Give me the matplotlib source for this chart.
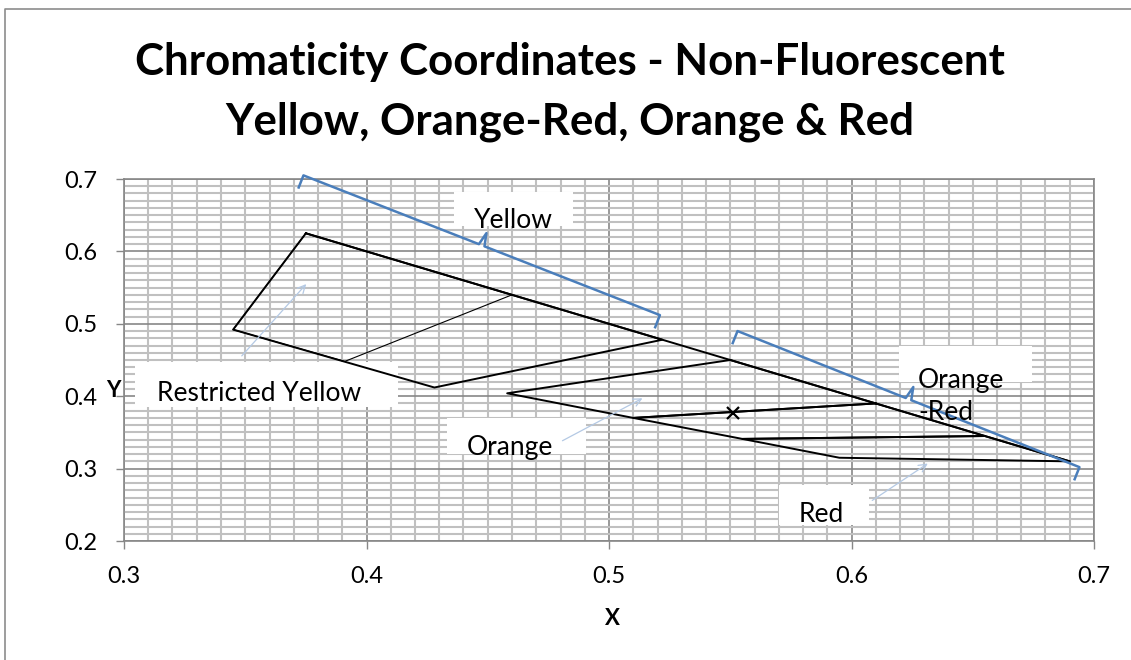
import numpy as np
import matplotlib
matplotlib.use("Agg")
import matplotlib.pyplot as plt
from matplotlib.patches import Rectangle
from matplotlib.ticker import MultipleLocator

plt.rcParams['font.family'] = ['Lato', 'DejaVu Sans']

# chromaticity boxes (x, y), closed polygons
yellow_x = [0.375, 0.522, 0.428, 0.345, 0.375]
yellow_y = [0.625, 0.478, 0.412, 0.492, 0.625]

restricted_x = [0.375, 0.460, 0.391, 0.345, 0.375]
restricted_y = [0.625, 0.540, 0.448, 0.492, 0.625]

orange_x = [0.550, 0.610, 0.510, 0.458, 0.550]
orange_y = [0.450, 0.390, 0.370, 0.404, 0.450]

orange_red_x = [0.610, 0.655, 0.555, 0.510, 0.610]
orange_red_y = [0.390, 0.345, 0.341, 0.370, 0.390]

red_x = [0.655, 0.690, 0.595, 0.555, 0.655]
red_y = [0.345, 0.310, 0.315, 0.341, 0.345]

# spectral edge joining the outer corners
locus_x = [0.375, 0.522, 0.550, 0.610, 0.655, 0.690]
locus_y = [0.625, 0.478, 0.450, 0.390, 0.345, 0.310]

# single point marked with a cross
point_x = [0.551]
point_y = [0.377]

x_ticks = [0.3, 0.4, 0.5, 0.6, 0.7]
y_ticks = [0.2, 0.3, 0.4, 0.5, 0.6, 0.7]

# callout labels: text, box (x0, y0, x1, y1), text anchor (x, y, ha)
labels = [
    ("Yellow", (0.4361, 0.6351, 0.4852, 0.6820), (0.4604, 0.6323, 'center')),
    ("Restricted Yellow", (0.3045, 0.3851, 0.4130, 0.4472), (0.3559, 0.3934, 'center')),
    ("Orange", (0.4332, 0.3202, 0.4905, 0.3699), (0.4592, 0.3188, 'center')),
    ("Orange\n-Red", (0.6196, 0.4196, 0.6744, 0.4693), (0.6274, 0.3671, 'left')),
    ("Red", (0.5701, 0.2221, 0.6072, 0.2773), (0.5784, 0.2262, 'left')),
]

# pale arrows from label to region (start, end)
arrows = [
    ((0.3478, 0.4528), (0.3759, 0.5577)),
    ((0.4798, 0.3367), (0.5148, 0.3989)),
    ((0.6076, 0.2539), (0.6324, 0.3091)),
]

# braces over the spectral edge (start corner, end corner)
braces = [
    ((0.374, 0.705), (0.521, 0.512)),
    ((0.553, 0.490), (0.694, 0.302)),
]

W, H = 1131, 660
fig = plt.figure(figsize=(W / 100, H / 100), dpi=100)
ax = fig.add_axes([124 / W, (H - 541) / H, 970 / W, 362 / H])

# outer chart border (only left and top edges fall inside the image)
fig.add_artist(plt.Line2D([5 / W, 5 / W, 1.0], [0.0, 1 - 9 / H, 1 - 9 / H],
                          transform=fig.transFigure, color='#8c8c8c', linewidth=1.2))

ax.set_xlim(0.3, 0.7)
ax.set_ylim(0.2, 0.7)
ax.set_xticks(x_ticks)
ax.set_yticks(y_ticks)
ax.xaxis.set_minor_locator(MultipleLocator(0.01))
ax.yaxis.set_minor_locator(MultipleLocator(0.01))
ax.grid(which='minor', color='#c0c0c0', linewidth=1.5, zorder=0)
ax.grid(which='major', color='#878787', linewidth=1.2, zorder=0)
ax.set_axisbelow(True)
ax.tick_params(which='major', direction='out', length=6, width=1, color='#878787',
               labelsize=17)
ax.tick_params(which='minor', length=0)
ax.tick_params(axis='x', pad=12)
ax.tick_params(axis='y', pad=13)
ax.xaxis.set_major_formatter(plt.FuncFormatter(lambda v, p: f'{v:g}'))
ax.yaxis.set_major_formatter(plt.FuncFormatter(lambda v, p: f'{v:g}'))
for s in ax.spines.values():
    s.set_color('#878787')
    s.set_linewidth(1.2)

ax.plot(restricted_x, restricted_y, color='black', linewidth=0.8, zorder=3)
for xs, ys in [(yellow_x, yellow_y), (orange_x, orange_y), (orange_red_x, orange_red_y),
               (red_x, red_y), (locus_x, locus_y)]:
    ax.plot(xs, ys, color='black', linewidth=1.4, zorder=3)
ax.plot(point_x, point_y, linestyle='none', marker='x', markersize=8,
        markeredgewidth=1.6, color='black', zorder=4)

# labels with white boxes
for text, (x0, y0, x1, y1), (tx, ty, ha) in labels:
    ax.add_patch(Rectangle((x0, y0), x1 - x0, y1 - y0, facecolor='white',
                           edgecolor='none', zorder=2))
    ax.text(tx, ty, text, ha=ha, va='baseline', fontsize=19, linespacing=1.35,
            zorder=6)

for (sx, sy), (ex, ey) in arrows:
    ax.annotate('', xy=(ex, ey), xytext=(sx, sy),
                arrowprops=dict(arrowstyle='->', color='#b4c9e4', linewidth=0.9,
                                mutation_scale=14), zorder=5)

# braces drawn in display space so ticks stay perpendicular
fig.canvas.draw()
to_disp = ax.transData
to_data = ax.transData.inverted()
for a, b in braces:
    pa = to_disp.transform(a)
    pb = to_disp.transform(b)
    d = pb - pa
    d = d / np.hypot(*d)
    n = np.array([-d[1], d[0]])
    if n[1] < 0:
        n = -n
    tick = 13
    mid = (pa + pb) / 2
    pts = [pa - n * tick, pa, mid - d * 3, mid + n * tick, mid + d * 3, pb, pb - n * tick]
    dpts = to_data.transform(np.array(pts))
    ax.plot(dpts[:, 0], dpts[:, 1], color='#4a7ebb', linewidth=1.8, zorder=5,
            solid_joinstyle='round', clip_on=False)

fig.text(570 / W, 1 - 75 / H, 'Chromaticity Coordinates - Non-Fluorescent',
         ha='center', va='baseline', fontsize=31.6, fontweight='bold')
fig.text(570 / W, 1 - 135 / H, 'Yellow, Orange-Red, Orange & Red',
         ha='center', va='baseline', fontsize=31.6, fontweight='bold')
fig.text(612 / W, 1 - 625 / H, 'X', ha='center', va='baseline', fontsize=16,
         fontweight='bold')
fig.text(113 / W, 1 - 397 / H, 'Y', ha='center', va='baseline', fontsize=16,
         fontweight='bold')

fig.savefig('out.png', dpi=100)
